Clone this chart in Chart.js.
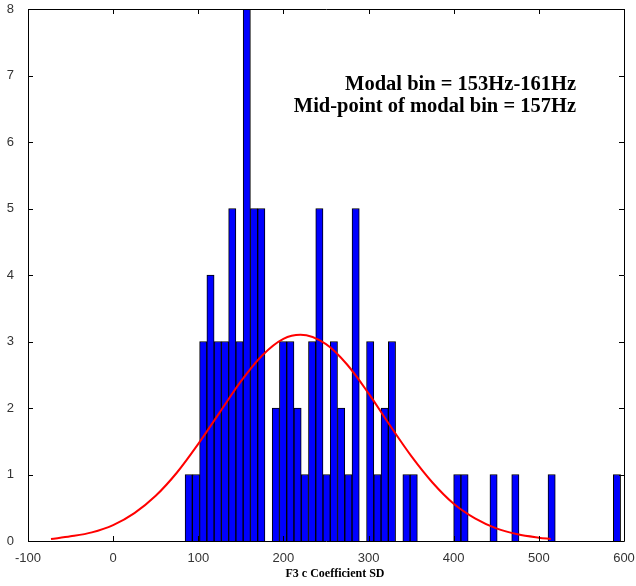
<!DOCTYPE html>
<html>
<head>
<meta charset="utf-8">
<script src="https://cdn.jsdelivr.net/npm/chart.js@4"></script>
<style>
  body { margin: 0; background: #fff; }
  #wrap { width: 636px; height: 586px; }
</style>
</head>
<body>
<div id="wrap"><canvas id="histChart" width="636" height="586"></canvas></div>
<script>
// histogram: 60 bins, first edge ~84.5 Hz, width ~8.525 Hz
const binStart = 84.5;
const binWidth = 8.525;
const binCounts = [
  1, 1, 3, 4, 3, 3, 5, 3, 8, 5,
  5, 0, 2, 3, 3, 2, 1, 3, 5, 1,
  3, 2, 1, 5, 0, 3, 1, 2, 3, 0,
  1, 1, 0, 0, 0, 0, 0, 1, 1, 0,
  0, 0, 1, 0, 0, 1, 0, 0, 0, 0,
  1, 0, 0, 0, 0, 0, 0, 0, 0, 1
];

// fitted normal curve
const curveX = [-73, -50, -25, 0, 25, 50, 75, 100, 125, 150, 175, 200, 220, 250, 275, 300, 325, 350, 375, 400, 425, 450, 475, 500, 514];
const curveY = [0.03, 0.07, 0.13, 0.24, 0.42, 0.68, 1.03, 1.46, 1.93, 2.40, 2.79, 3.04, 3.10, 2.96, 2.65, 2.22, 1.74, 1.28, 0.88, 0.56, 0.34, 0.19, 0.10, 0.05, 0.03];

const xTicks = [-100, 0, 100, 200, 300, 400, 500, 600];
const yTicks = [0, 1, 2, 3, 4, 5, 6, 7, 8];

const notes = ['Modal bin = 153Hz-161Hz', 'Mid-point of modal bin = 157Hz'];
const xTitle = 'F3 c Coefficient SD';

let barData = binCounts.map((c, i) => ({ x: binStart + binWidth * (i + 0.5), y: c }));
let lineData = curveX.map((x, i) => ({ x: x, y: curveY[i] }));

// matlab style box with inward ticks on all sides + text
const matlabBox = {
  id: 'matlabBox',
  afterDraw(chart) {
    let ctx = chart.ctx;
    let a = chart.chartArea;
    let xs = chart.scales.x;
    let ys = chart.scales.y;
    ctx.save();
    ctx.strokeStyle = '#000';
    ctx.lineWidth = 1;
    ctx.beginPath();
    ctx.rect(a.left + 0.5, a.top + 0.5, a.right - a.left, a.bottom - a.top);
    xTicks.forEach((t) => {
      let px = Math.round(xs.getPixelForValue(t)) + 0.5;
      ctx.moveTo(px, a.bottom);
      ctx.lineTo(px, a.bottom - 5);
      ctx.moveTo(px, a.top);
      ctx.lineTo(px, a.top + 5);
    });
    yTicks.forEach((t) => {
      let py = Math.round(ys.getPixelForValue(t)) + 0.5;
      ctx.moveTo(a.left, py);
      ctx.lineTo(a.left + 5, py);
      ctx.moveTo(a.right, py);
      ctx.lineTo(a.right - 5, py);
    });
    ctx.stroke();

    ctx.fillStyle = '#000';
    ctx.textAlign = 'right';
    ctx.textBaseline = 'alphabetic';
    ctx.font = 'bold 20.5px "Liberation Serif"';
    ctx.fillText(notes[0], 576, 90);
    ctx.fillText(notes[1], 576, 112);

    ctx.textAlign = 'center';
    ctx.font = 'bold 12px "Liberation Serif"';
    ctx.fillText(xTitle, 335, 577);
    ctx.restore();
  }
};

let ctx = document.getElementById('histChart').getContext('2d');
let histChart = new Chart(ctx, {
  type: 'bar',
  data: {
    datasets: [
      {
        type: 'line',
        data: lineData,
        borderColor: '#ff0000',
        borderWidth: 2,
        pointRadius: 0,
        cubicInterpolationMode: 'monotone',
        order: 0,
      },
      {
        type: 'bar',
        data: barData,
        backgroundColor: '#0000ff',
        borderColor: '#000000',
        borderWidth: 1,
        borderSkipped: 'bottom',
        barPercentage: 1,
        categoryPercentage: 1,
        order: 1,
      },
    ],
  },
  options: {
    responsive: false,
    animation: false,
    layout: { padding: { top: 9, right: 12, left: 0, bottom: 0 } },
    plugins: { legend: { display: false }, tooltip: { enabled: false } },
    scales: {
      x: {
        type: 'linear',
        min: -100,
        max: 600,
        offset: false,
        afterFit: (s) => { s.height = 45; s.paddingLeft = 0; s.paddingRight = 0; },
        afterBuildTicks: (s) => { s.ticks = xTicks.map((v) => ({ value: v })); },
        grid: { display: false, offset: false },
        border: { display: false },
        ticks: {
          color: '#333',
          font: { family: 'Liberation Sans', size: 13 },
          padding: 2,
          maxRotation: 0,
          autoSkip: false,
        },
      },
      y: {
        min: 0,
        max: 8,
        afterFit: (s) => { s.width = 28; s.paddingTop = 0; s.paddingBottom = 0; },
        afterBuildTicks: (s) => { s.ticks = yTicks.map((v) => ({ value: v })); },
        grid: { display: false },
        border: { display: false },
        ticks: {
          color: '#333',
          font: { family: 'Liberation Sans', size: 13 },
          padding: 6,
        },
      },
    },
  },
  plugins: [matlabBox],
});
</script>
</body>
</html>
